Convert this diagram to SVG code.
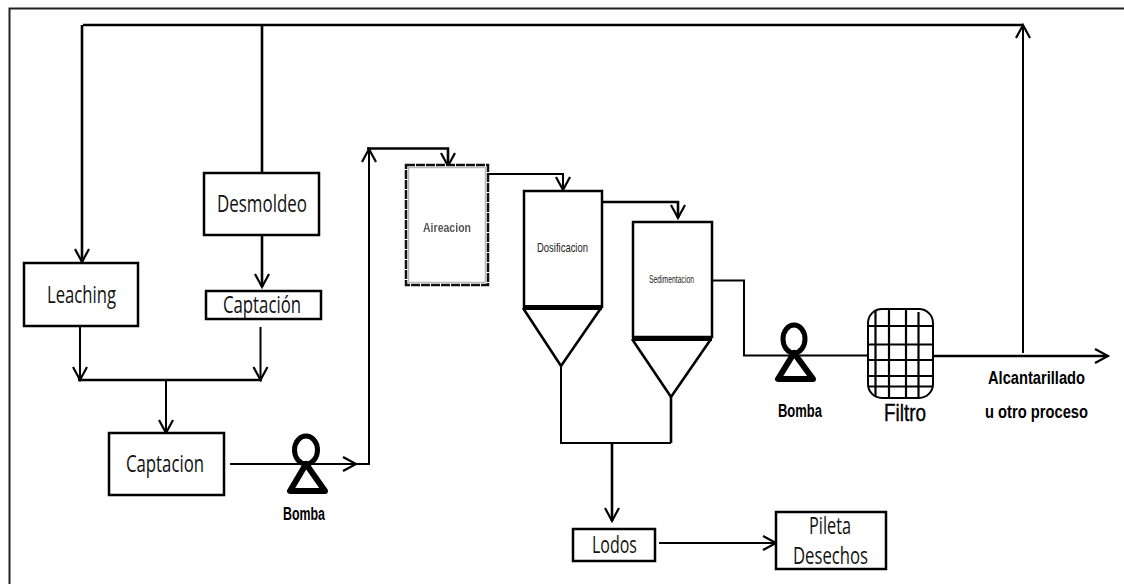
<svg xmlns="http://www.w3.org/2000/svg" width="1124" height="584" viewBox="0 0 1124 584">
<style>
.b{fill:#fff;stroke:#000;stroke-width:2.5}
.c{fill:none;stroke:#000;stroke-width:2}
.h{fill:none;stroke:#000;stroke-width:2.6}
.a{marker-end:url(#ah)}
.t{font-family:"Open Sans","Liberation Sans",sans-serif;fill:#111}
.s{font-family:"Liberation Sans",sans-serif;fill:#222}
.g{font-family:"Liberation Sans",sans-serif;font-weight:bold;fill:#555}
.k{font-family:"Liberation Sans",sans-serif;font-weight:bold;fill:#000}
.f{font-family:"Liberation Sans",sans-serif;fill:#000;stroke:#000;stroke-width:.4}
</style>
<defs>
<marker id="ah" markerUnits="userSpaceOnUse" markerWidth="20" markerHeight="20" refX="15" refY="8" orient="auto" overflow="visible">
<path d="M2 1 L15 8 L2 15" fill="none" stroke="#000" stroke-width="2.200"/>
</marker>
<filter id="bl" x="-10%" y="-30%" width="120%" height="160%"><feGaussianBlur stdDeviation="0.6"/></filter>
</defs>
<rect width="1124" height="584" fill="#fff"/>
<path id="frame" d="M9.500 584V8.500H1124" fill="none" stroke="#222" stroke-width="2"/>
<g id="connectors">
<path class="h" d="M1023 25H83"/>
<path class="h a" d="M82 25V262"/>
<path class="h" d="M262 25V173"/>
<path class="h a" d="M262 235V287"/>
<path class="c a" d="M80 326V380"/>
<path class="c a" d="M260.500 327V380"/>
<path class="h" d="M78 380H262"/>
<path class="c a" d="M166 380V433"/>
<path class="c a" d="M230 464H356"/>
<path class="c" d="M354 464H369V150"/>
<path class="c a" d="M369 200V149"/>
<path class="h a" d="M367 148.500H448V166"/>
<path class="c a" d="M488 174H563V190"/>
<path class="h a" d="M602 202H678V218"/>
<path class="c" d="M712 280.500H744V355.500H868"/>
<path class="h a" d="M934 356H1108"/>
<path class="c" d="M1023 353V26"/>
<path class="c a" d="M1023 60V25"/>
<path class="c" d="M561 366V443H671"/>
<path class="h" d="M671 397V443"/>
<path class="h a" d="M612 443V521"/>
<path class="c a" d="M659 543H776"/>
</g>
<g id="desmoldeo"><rect class="b" x="204" y="173" width="115" height="62"/><text class="t" x="217" y="212" font-size="23" textLength="90" lengthAdjust="spacingAndGlyphs">Desmoldeo</text></g>
<g id="leaching"><rect class="b" x="24" y="263" width="114" height="63"/><text class="t" x="47" y="303" font-size="23" textLength="69" lengthAdjust="spacingAndGlyphs">Leaching</text></g>
<g id="captacion-1"><rect class="b" x="206" y="291" width="115" height="28"/><text class="t" x="223" y="313" font-size="23" textLength="78" lengthAdjust="spacingAndGlyphs">Captación</text></g>
<g id="captacion-2"><rect class="b" x="109" y="433" width="115" height="62"/><text class="t" x="126" y="472" font-size="23" textLength="78" lengthAdjust="spacingAndGlyphs">Captacion</text></g>
<g id="bomba-1"><ellipse cx="306" cy="450" rx="11.500" ry="14" fill="#fff" stroke="#000" stroke-width="5"/><path d="M306 464L290 491H325Z" fill="none" stroke="#000" stroke-width="6" stroke-linejoin="round"/><text class="k" x="283" y="520" font-size="18" textLength="42" lengthAdjust="spacingAndGlyphs">Bomba</text></g>
<g id="aireacion"><rect x="406" y="165" width="82" height="120" fill="#fff" stroke="#111" stroke-width="2.500" stroke-dasharray="9 1"/><rect x="408.500" y="167.500" width="77" height="115" fill="none" stroke="#bbb" stroke-width="1.500"/><text class="g" x="423" y="232" font-size="13" textLength="48" lengthAdjust="spacingAndGlyphs" filter="url(#bl)">Aireacion</text></g>
<g id="dosificacion"><rect class="b" x="524" y="191" width="78" height="116"/><path d="M523 307.500H602" stroke="#000" stroke-width="5"/><path class="h" d="M523 308L561 366L601 308"/><text class="s" x="537" y="252" font-size="13" textLength="51" lengthAdjust="spacingAndGlyphs">Dosificacion</text></g>
<g id="sedimentacion"><rect class="b" x="633" y="222" width="79" height="115"/><path d="M632 338.500H712" stroke="#000" stroke-width="5"/><path class="h" d="M632 339L671 397L711 339"/><text class="s" x="649" y="283" font-size="10" textLength="45" lengthAdjust="spacingAndGlyphs">Sedimentacion</text></g>
<g id="bomba-2"><ellipse cx="794" cy="339" rx="11" ry="14" fill="#fff" stroke="#000" stroke-width="5"/><path d="M794 353L778 379H813Z" fill="none" stroke="#000" stroke-width="6" stroke-linejoin="round"/><text class="k" x="778" y="417" font-size="18" textLength="44" lengthAdjust="spacingAndGlyphs">Bomba</text></g>
<g id="filtro"><rect x="868" y="309" width="65" height="89" rx="14" fill="#fff" stroke="#000" stroke-width="2"/><path d="M875.500 310V397M889 309V398M906 309V398M918.500 312V397M869 326H933M869 344.500H933M869 360H933M869 376H933M869 386.500H933" fill="none" stroke="#000" stroke-width="2.200"/><text class="f" x="884" y="421" font-size="24" textLength="42" lengthAdjust="spacingAndGlyphs">Filtro</text></g>
<g id="destino"><text class="k" x="988" y="384" font-size="18" textLength="97" lengthAdjust="spacingAndGlyphs">Alcantarillado</text><text class="k" x="985" y="418" font-size="18" textLength="103" lengthAdjust="spacingAndGlyphs">u otro proceso</text></g>
<g id="lodos"><rect class="b" x="573" y="529" width="82" height="32"/><text class="t" x="592" y="553" font-size="23" textLength="45" lengthAdjust="spacingAndGlyphs">Lodos</text></g>
<g id="pileta"><rect class="b" x="776" y="512" width="110" height="57"/><text class="t" x="809" y="534" font-size="23" textLength="42" lengthAdjust="spacingAndGlyphs">Pileta</text><text class="t" x="793" y="564" font-size="23" textLength="75" lengthAdjust="spacingAndGlyphs">Desechos</text></g>
</svg>
